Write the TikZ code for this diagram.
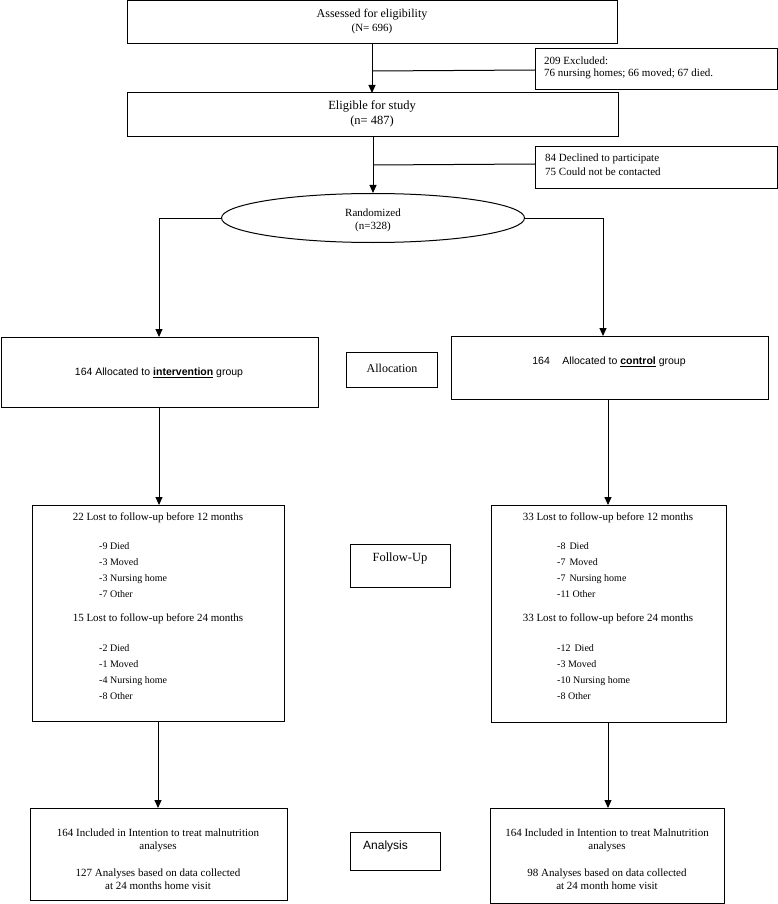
\documentclass[tikz,border=0pt]{standalone}
\usepackage{fontspec}
\setmainfont{Liberation Serif}
\newfontfamily\arialf{Liberation Sans}
\usetikzlibrary{shapes.geometric,arrows.meta}
\begin{document}
\begin{tikzpicture}[x=1pt,y=-1pt,
  bx/.style={draw,line width=1pt,inner sep=0pt},
  ar/.style={line width=1pt,-{Triangle[length=8pt,width=7pt]}},
  ln/.style={line width=1pt},
  every node/.style={font=\fontsize{11}{13}\selectfont,inner sep=0pt}]
\useasboundingbox (0,0) rectangle (778,904);
% top boxes
\draw[bx] (127,1) rectangle (617,44);
\node[font=\fontsize{12}{13}\selectfont] at (372,15) {Assessed for eligibility};
\node[font=\fontsize{11}{13}\selectfont] at (372,29) {(N= 696)};
\coordinate (ab) at (372,44);
\draw[bx] (535,49) rectangle (777,90);
\node[anchor=west] at (544,61) {209 Excluded:};
\node[anchor=west] at (544,74) {76 nursing homes; 66 moved; 67 died.};
\coordinate (ex) at (535,70);
\draw[bx] (127,93) rectangle (618,137);
\node[font=\fontsize{12.5}{13}\selectfont] at (372,106) {Eligible for study};
\node[font=\fontsize{12.5}{13}\selectfont] at (372,121) {(n= 487)};
\coordinate (et) at (372,93);
\coordinate (eb) at (373,137);
\draw[bx] (535,147) rectangle (777,189);
\node[anchor=west] at (545,159) {84 Declined to participate};
\node[anchor=west] at (545,172) {75 Could not be contacted};
\coordinate (dc) at (535,164);
\node[draw,ellipse,line width=1pt,minimum width=303pt,minimum height=49pt] (r) at (373,218) {};
\node at (373,213) {Randomized};
\node at (373,227) {(n=328)};
\draw[ar] (ab) -- (et);
\draw[ln] (ex) -- (373,71);
\draw[ar] (eb) -- (r.north);
\draw[ln] (dc) -- (373,165);
% allocation
\draw[bx] (1,337) rectangle (318,407);
\node[font=\arialf\fontsize{10.5}{10}\selectfont] at (159,373) {164 Allocated to \textbf{\underline{intervention}} group};
\draw[bx] (451,336) rectangle (768,399);
\node[font=\arialf\fontsize{10.5}{10}\selectfont] at (609,362) {164\hspace{1.2em}Allocated to \textbf{\underline{control}} group};
\draw[bx] (346,352) rectangle (437,387);
\node[font=\fontsize{12}{13}\selectfont] at (392,368) {Allocation};
\draw[ar] (r.west) -| (159,337);
\draw[ar] (r.east) -| (603,336);
% follow-up
\draw[bx] (32,505) rectangle (284,721);
\draw[bx] (491,505) rectangle (726,722);
\draw[bx] (350,544) rectangle (450,587);
\node[font=\fontsize{12.5}{13}\selectfont] at (400,558) {Follow-Up};
\draw[ar] (159,407) -- (159,505);
\draw[ar] (608,399) -- (608,505);
\node at (158,518) {22 Lost to follow-up before 12 months};
\node[anchor=west,align=left,font=\fontsize{10}{15.8}\selectfont] at (99,570) {-9 Died\\-3 Moved\\-3 Nursing home\\-7 Other};
\node at (158,619) {15 Lost to follow-up before 24 months};
\node[anchor=west,align=left,font=\fontsize{10}{15.8}\selectfont] at (99,672) {-2 Died\\-1 Moved\\-4 Nursing home\\-8 Other};
\node at (608,518) {33 Lost to follow-up before 12 months};
\node[anchor=west,align=left,font=\fontsize{10}{15.8}\selectfont] at (557,570) {-8\hspace{0.4em}Died\\-7\hspace{0.4em}Moved\\-7\hspace{0.4em}Nursing home\\-11 Other};
\node at (608,619) {33 Lost to follow-up before 24 months};
\node[anchor=west,align=left,font=\fontsize{10}{15.8}\selectfont] at (557,672) {-12\hspace{0.4em}Died\\-3 Moved\\-10 Nursing home\\-8 Other};
% analysis
\draw[bx] (30,808) rectangle (287,900);
\draw[bx] (490,808) rectangle (724,903);
\draw[bx] (350,832) rectangle (440,870);
\node[font=\arialf\fontsize{12}{10}\selectfont,anchor=west] at (363,846) {Analysis};
\draw[ar] (158,721) -- (158,808);
\draw[ar] (608,722) -- (608,808);
\node[align=center,font=\fontsize{11}{13}\selectfont] at (158,840) {164 Included in Intention to treat malnutrition\\analyses};
\node[align=center,font=\fontsize{11}{13}\selectfont] at (158,879) {127 Analyses based on data collected\\at 24 months home visit};
\node[align=center,font=\fontsize{11}{13}\selectfont] at (607,840) {164 Included in Intention to treat Malnutrition\\analyses};
\node[align=center,font=\fontsize{11}{13}\selectfont] at (607,879) {98 Analyses based on data collected\\at 24 month home visit};
\end{tikzpicture}
\end{document}
